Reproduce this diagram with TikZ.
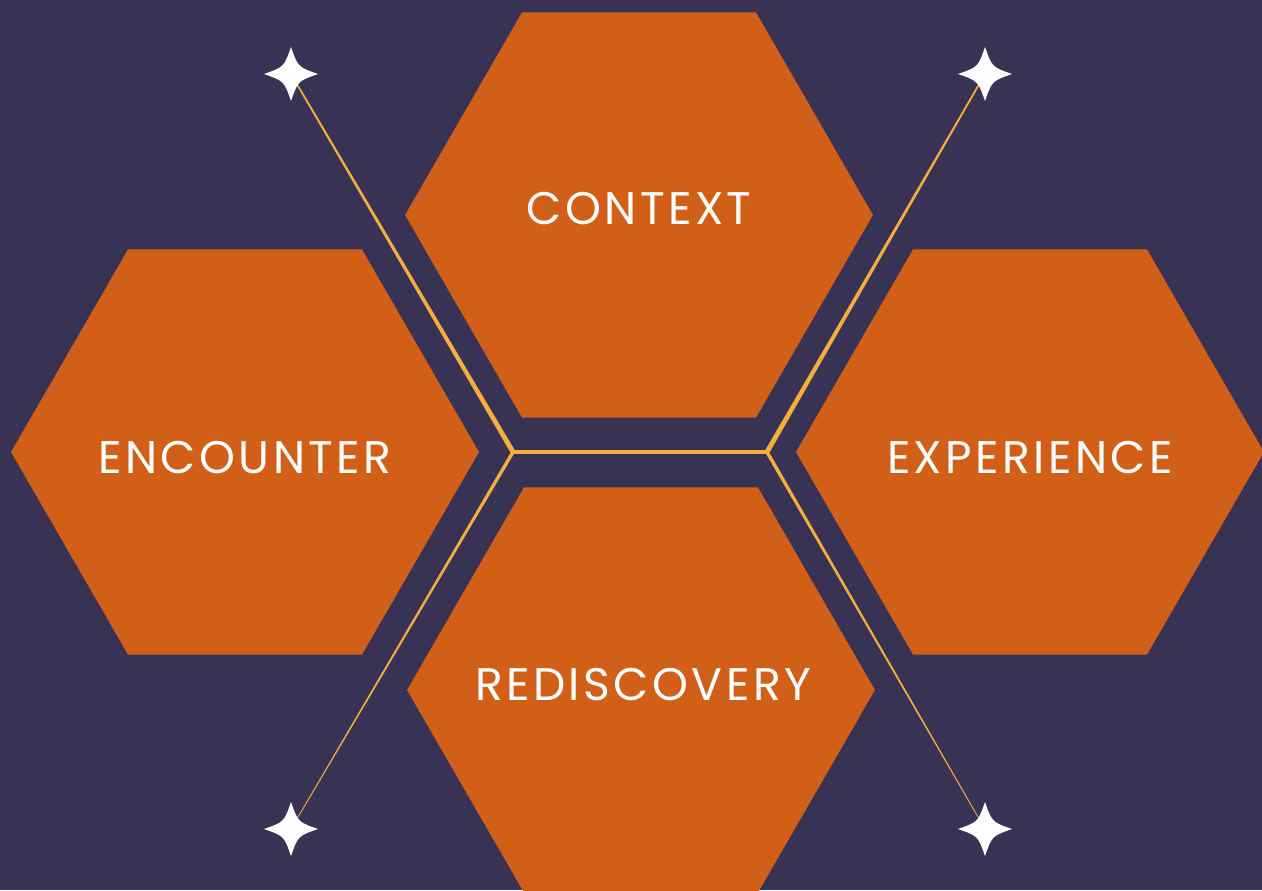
\documentclass[tikz,border=0pt]{standalone}
\usepackage{fontspec}
\setmainfont[LetterSpace=7.5]{Poppins}
\usetikzlibrary{shapes.geometric,calc}
\definecolor{night}{RGB}{56,51,85}
\definecolor{rust}{RGB}{209,95,24}
\definecolor{amber}{RGB}{245,174,60}
\tikzset{
	hex/.style={regular polygon, regular polygon sides=6, minimum size=9.36cm, inner sep=0pt, fill=rust},
	word/.style={text=white, inner sep=0pt, font=\fontsize{26}{31}\selectfont},
	sparkle/.pic={\fill[white] (0,-27) .. controls (7,-7) .. (27,0) .. controls (7,7) .. (0,27) .. controls (-7,7) .. (-27,0) .. controls (-7,-7) .. cycle;}
}
\newcommand{\taper}[4]{\fill[amber] ($(#1)!#3!90:(#2)$) -- ($(#1)!#3!-90:(#2)$) -- ($(#2)!#4!90:(#1)$) -- ($(#2)!#4!-90:(#1)$) -- cycle;}

\begin{document}
\begin{tikzpicture}[x=0.02cm,y=-0.02cm]
			\fill[night] (0,0) rectangle (1262,890);
			\clip (0,0) rectangle (1262,890);
			\node[hex] (context) at (639,215) {};
			\node[hex] (encounter) at (245,452) {};
			\node[hex] (experience) at (1030,452) {};
			\node[hex] (rediscovery) at (641,690) {};
			\node[word] (context text) at (639,209) {CONTEXT};
			\node[word] (encounter text) at (245,458) {ENCOUNTER};
			\node[word] (experience text) at (1030,458) {EXPERIENCE};
			\node[word] (rediscovery text) at (643,685) {REDISCOVERY};
			\coordinate (jl) at (513,452);
			\coordinate (jr) at (767,452);
			\coordinate (stl) at (291,74);
			\coordinate (str) at (985,74);
			\coordinate (sbl) at (291,829);
			\coordinate (sbr) at (985,829);
			\draw[amber, line width=1.8pt] (jl) -- (jr);
			\taper{jl}{stl}{1.4pt}{0.45pt}
			\taper{jr}{str}{1.4pt}{0.45pt}
			\taper{jl}{sbl}{1pt}{0.2pt}
			\taper{jr}{sbr}{1pt}{0.2pt}
			\pic at (stl) {sparkle};
			\pic at (str) {sparkle};
			\pic at (sbl) {sparkle};
			\pic at (sbr) {sparkle};
		\end{tikzpicture}
\end{document}
